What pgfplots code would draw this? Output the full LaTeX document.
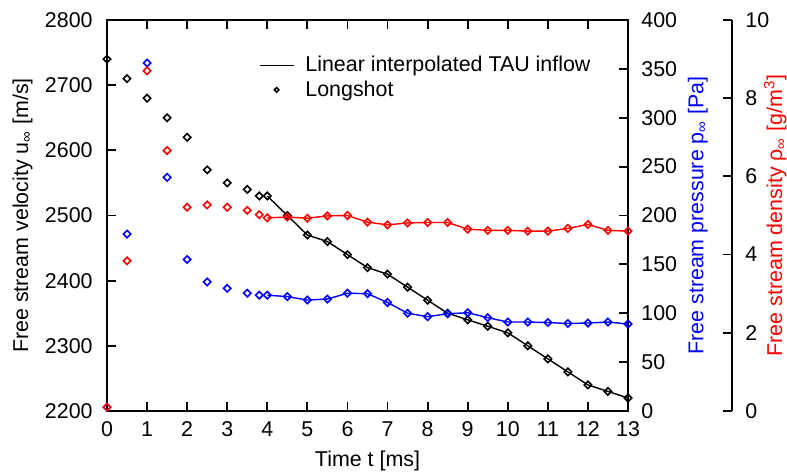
\documentclass[border=0pt]{standalone}
\usepackage{fontspec}
\setmainfont{Liberation Sans}
\usepackage{pgfplots}
\pgfplotsset{compat=1.18}

\pgfplotsset{
  every axis/.append style={
    scale only axis, width=260.5pt, height=195.5pt,
    at={(0pt,0pt)}, anchor=south west,
    xmin=0, xmax=13, clip=false,
    font=\fontsize{10.7}{12.8}\selectfont,
    tick align=inside, major tick length=4.5pt,
    axis line style={line width=0.9pt},
    every tick/.style={line width=0.9pt, black},
    /pgf/number format/assume math mode=true,
    /pgf/number format/1000 sep={},
    every tick label/.append style={inner sep=0pt},
  },
  dmark/.style={mark=square, mark size=1.3pt, mark options={rotate=45, solid}},
}

\begin{document}
\begin{tikzpicture}
\useasboundingbox (-53.5pt,-31.5pt) rectangle (340pt,205.5pt);

% velocity (left axis)
\begin{axis}[
  ymin=2200, ymax=2800, ytick={2200,2300,...,2800},
  xtick={0,1,...,13}, xtick pos=both, ytick pos=left,
  xlabel={Time t [ms]},
  ylabel={Free stream velocity u\textsubscript{∞} [m/s]},
  xlabel style={at={(axis description cs:0.5,-0.129)}, anchor=center},
  ylabel style={at={(axis description cs:-0.162,0.5)}, anchor=center},
  yticklabel style={xshift=-7pt},
  xticklabel style={yshift=-5pt},
  legend style={draw=none, fill=none, at={(axis description cs:0.2792,0.929)},
    anchor=north west, cells={anchor=west}, column sep=3.5pt, row sep=-1pt},
]
\addplot[black, line width=0.7pt] coordinates {
  (4,2530) (4.5,2500) (5,2470) (5.5,2460) (6,2440) (6.5,2420) (7,2410)
  (7.5,2390) (8,2370) (8.5,2350) (9,2340) (9.5,2330) (10,2320) (10.5,2300)
  (11,2280) (11.5,2260) (12,2240) (12.5,2230) (13,2220)};
\addlegendentry{Linear interpolated TAU inflow}
\addplot[black, only marks, dmark, line width=0.8pt,
  legend image post style={mark size=0.8pt}] coordinates {
  (0,2740) (0.5,2710) (1,2680) (1.5,2650) (2,2620) (2.5,2570) (3,2550)
  (3.5,2540) (3.8,2530) (4,2530) (4.5,2500) (5,2470) (5.5,2460) (6,2440)
  (6.5,2420) (7,2410) (7.5,2390) (8,2370) (8.5,2350) (9,2340) (9.5,2330)
  (10,2320) (10.5,2300) (11,2280) (11.5,2260) (12,2240) (12.5,2230) (13,2220)};
\addlegendentry{Longshot}
\end{axis}

% pressure (right axis)
\begin{axis}[
  axis y line*=right, axis x line=none,
  ymin=0, ymax=400, ytick={0,50,...,400},
  ylabel={Free stream pressure p\textsubscript{∞} [Pa]},
  ylabel style={blue, at={(axis description cs:1.1338,0.5)}, anchor=center},
  yticklabel style={xshift=6.5pt},
]
\addplot[blue, line width=0.7pt, forget plot] coordinates {
  (4,118.5) (4.5,117) (5,113.5) (5.5,114.5) (6,120.5) (6.5,120) (7,111)
  (7.5,100) (8,96.5) (8.5,99.5) (9,100.5) (9.5,95.5) (10,91) (10.5,91)
  (11,90.5) (11.5,89.5) (12,90) (12.5,91) (13,89)};
\addplot[blue, only marks, dmark, line width=0.8pt, forget plot] coordinates {
  (0,4) (0.5,181) (1,356) (1.5,239) (2,155) (2.5,132) (3,125.5)
  (3.5,120.5) (3.8,118.5) (4,118.5) (4.5,117) (5,113.5) (5.5,114.5) (6,120.5)
  (6.5,120) (7,111) (7.5,100) (8,96.5) (8.5,99.5) (9,100.5) (9.5,95.5)
  (10,91) (10.5,91) (11,90.5) (11.5,89.5) (12,90) (12.5,91) (13,89)};
\end{axis}

% density data
\begin{axis}[hide axis, ymin=0, ymax=10]
\addplot[red, line width=0.7pt, forget plot] coordinates {
  (4,4.94) (4.5,4.96) (5,4.93) (5.5,4.99) (6,5.0) (6.5,4.83) (7,4.76)
  (7.5,4.81) (8,4.82) (8.5,4.82) (9,4.65) (9.5,4.62) (10,4.62) (10.5,4.60)
  (11,4.60) (11.5,4.67) (12,4.77) (12.5,4.62) (13,4.60)};
\addplot[red, only marks, dmark, line width=0.8pt, forget plot] coordinates {
  (0,0.1) (0.5,3.84) (1,8.70) (1.5,6.66) (2,5.21) (2.5,5.27) (3,5.21)
  (3.5,5.13) (3.8,5.02) (4,4.94) (4.5,4.96) (5,4.93) (5.5,4.99) (6,5.0)
  (6.5,4.83) (7,4.76) (7.5,4.81) (8,4.82) (8.5,4.82) (9,4.65) (9.5,4.62)
  (10,4.62) (10.5,4.60) (11,4.60) (11.5,4.67) (12,4.77) (12.5,4.62) (13,4.60)};
\end{axis}

% density scale, set off to the right
\begin{axis}[
  at={(52pt,0pt)},
  axis y line*=right, axis x line=none,
  ymin=0, ymax=10, ytick={0,2,...,10},
  ylabel={Free stream density ρ\textsubscript{∞} [g/m\textsuperscript{3}]},
  ylabel style={red, at={(axis description cs:1.083,0.5)}, anchor=center},
  yticklabel style={xshift=6.5pt},
]
\end{axis}
\end{tikzpicture}
\end{document}
